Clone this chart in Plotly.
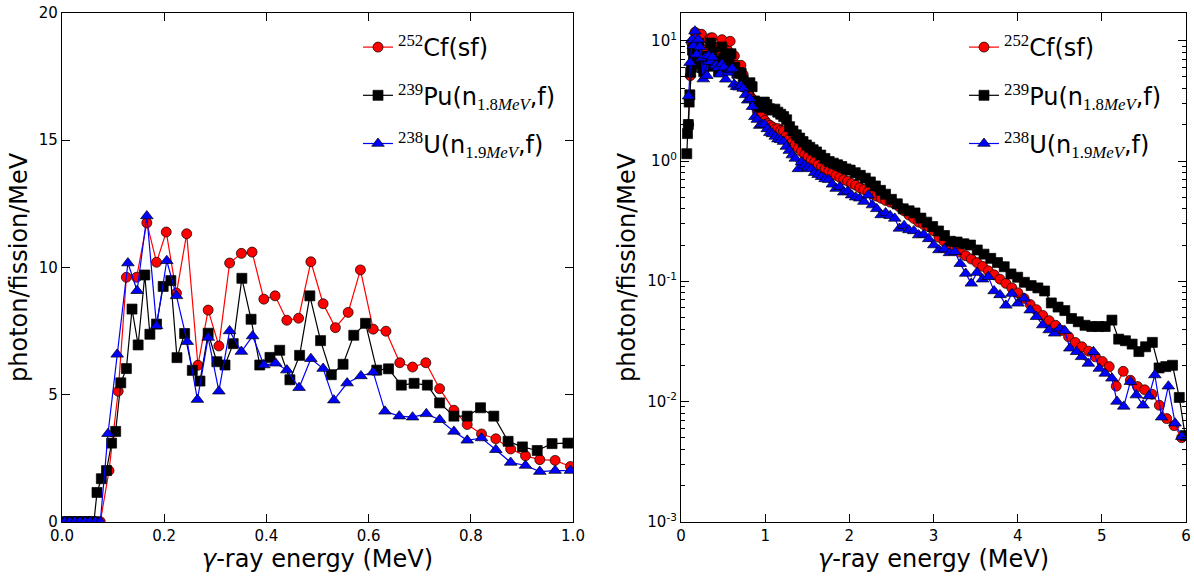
import plotly.graph_objects as go

# gamma-ray spectra (energy in MeV, photon/fission/MeV)
cf_e = [0.005, 0.015, 0.025, 0.035, 0.045, 0.055, 0.065, 0.075,
        0.092, 0.110, 0.126, 0.146, 0.166, 0.185, 0.204, 0.224, 0.244, 0.266,
        0.286, 0.307, 0.328, 0.351, 0.372, 0.395, 0.417, 0.440, 0.463, 0.487,
        0.511, 0.535, 0.560, 0.584, 0.609, 0.634, 0.661, 0.686, 0.712, 0.739,
        0.767, 0.793, 0.821, 0.849, 0.878, 0.907, 0.935, 0.965, 0.995,
        1.025, 1.056, 1.087, 1.120, 1.152, 1.185, 1.218, 1.252, 1.287, 1.322,
        1.358, 1.395, 1.432, 1.470, 1.509, 1.548, 1.588, 1.629, 1.670, 1.712,
        1.755, 1.799, 1.843, 1.888, 1.934, 1.980, 2.027, 2.075, 2.124, 2.173,
        2.223, 2.274, 2.326, 2.378, 2.431, 2.485, 2.540, 2.595, 2.651, 2.708,
        2.766, 2.824, 2.883, 2.943, 3.004, 3.065, 3.127, 3.190, 3.254, 3.318,
        3.383, 3.449, 3.516, 3.583, 3.651, 3.720, 3.790, 3.860, 3.931, 4.003,
        4.076, 4.149, 4.223, 4.298, 4.374, 4.450, 4.527, 4.605, 4.684, 4.763,
        4.843, 4.924, 5.006, 5.088, 5.171, 5.254, 5.339, 5.424, 5.509, 5.596,
        5.683, 5.771, 5.859, 5.948]
cf_y = [0, 0, 0, 0, 0, 0, 0, 0,
        2.01, 5.13, 9.61, 9.61, 11.75, 10.2, 11.39, 8.99, 11.32, 6.15,
        8.32, 6.91, 10.17, 10.55, 10.6, 8.75, 8.88, 7.92, 8.0, 10.22,
        8.57, 7.63, 8.23, 9.90, 7.57, 7.49, 6.25, 6.08, 6.25, 5.23,
        4.38, 3.82, 3.45, 3.26, 2.86, 2.59, 2.44, 2.41, 2.17,
        2.05, 1.98, 1.92, 1.85, 1.86, 1.80, 1.78, 1.62, 1.52, 1.44,
        1.37, 1.28, 1.20, 1.13, 1.08, 1.02, 0.98, 0.94, 0.90, 0.86,
        0.82, 0.79, 0.76, 0.73, 0.70, 0.68, 0.65, 0.63, 0.60, 0.58,
        0.555, 0.53, 0.51, 0.49, 0.47, 0.455, 0.44, 0.415, 0.385, 0.355,
        0.333, 0.31, 0.296, 0.284, 0.262, 0.232, 0.215, 0.198, 0.186, 0.174,
        0.163, 0.153, 0.143, 0.133, 0.122, 0.113, 0.104, 0.096, 0.088, 0.080,
        0.072, 0.064, 0.058, 0.052, 0.047, 0.043, 0.039, 0.0345, 0.031, 0.0285,
        0.0262, 0.0235, 0.0215, 0.0195, 0.0134, 0.0178, 0.0150, 0.0133, 0.0125, 0.0115,
        0.0093, 0.0072, 0.0063, 0.0050]

pu_e = [0.005, 0.015, 0.025, 0.035, 0.045, 0.055, 0.0625,
        0.0685, 0.077, 0.087, 0.097, 0.105, 0.115, 0.126, 0.137, 0.149, 0.162,
        0.172, 0.185, 0.198, 0.213, 0.225, 0.240, 0.255, 0.270, 0.286, 0.303,
        0.319, 0.335, 0.352, 0.370, 0.387, 0.407, 0.426, 0.446, 0.465, 0.485,
        0.506, 0.527, 0.550, 0.571, 0.594, 0.616, 0.639, 0.664, 0.689, 0.715,
        0.739, 0.767, 0.793, 0.819, 0.845, 0.873, 0.901, 0.930, 0.959, 0.990,
        1.02, 1.05, 1.08, 1.115, 1.15, 1.185, 1.22, 1.255, 1.29, 1.33,
        1.37, 1.41, 1.45, 1.49, 1.53, 1.57, 1.61, 1.66, 1.71, 1.76,
        1.81, 1.86, 1.91, 1.96, 2.01, 2.07, 2.13, 2.19, 2.25, 2.31,
        2.37, 2.43, 2.50, 2.57, 2.64, 2.71, 2.78, 2.85, 2.92, 2.99,
        3.06, 3.13, 3.20, 3.28, 3.36, 3.44, 3.52, 3.60, 3.68, 3.76,
        3.84, 3.92, 4.00, 4.08, 4.16, 4.24, 4.32, 4.40, 4.48, 4.56,
        4.64, 4.72, 4.80, 4.88, 4.96, 5.04, 5.12, 5.20, 5.28, 5.36,
        5.44, 5.52, 5.60, 5.68, 5.76, 5.84, 5.92, 5.99]
pu_y = [0, 0, 0, 0, 0, 0, 0,
        1.15, 1.69, 2.01, 3.09, 3.55, 5.46, 6.02, 8.36, 6.95, 9.70,
        7.37, 7.77, 9.25, 9.48, 6.45, 7.40, 5.95, 5.53, 7.41, 6.29,
        6.16, 7.0, 9.57, 7.96, 6.16, 6.46, 6.74, 5.58, 6.54, 8.88,
        7.12, 5.78, 6.19, 7.33, 7.80, 5.96, 6.01, 5.37, 5.44, 5.37,
        4.67, 4.15, 4.15, 4.48, 4.15, 3.16, 2.94, 2.80, 3.07, 3.09,
        2.95, 2.72, 2.65, 2.70, 2.55, 2.45, 2.34, 2.20, 1.93, 1.78,
        1.65, 1.55, 1.45, 1.36, 1.30, 1.24, 1.19, 1.12, 1.05, 0.99,
        0.96, 0.93, 0.90, 0.86, 0.84, 0.80, 0.76, 0.72, 0.67, 0.62,
        0.57, 0.53, 0.48, 0.44, 0.40, 0.385, 0.37, 0.335, 0.31, 0.285,
        0.262, 0.24, 0.215, 0.212, 0.205, 0.20, 0.182, 0.168, 0.155, 0.143,
        0.132, 0.115, 0.108, 0.098, 0.092, 0.088, 0.083, 0.066, 0.061, 0.057,
        0.049, 0.046, 0.043, 0.042, 0.042, 0.042, 0.0475, 0.033, 0.032, 0.030,
        0.026, 0.0285, 0.031, 0.019, 0.0195, 0.020, 0.0108, 0.0052]

u_e = [0.005, 0.015, 0.025, 0.035, 0.045, 0.055, 0.065, 0.075,
       0.090, 0.108, 0.129, 0.147, 0.166, 0.185, 0.205, 0.224, 0.245, 0.265,
       0.286, 0.307, 0.328, 0.351, 0.373, 0.395, 0.418, 0.440, 0.464, 0.487,
       0.511, 0.532, 0.558, 0.585, 0.609, 0.632, 0.660, 0.686, 0.713, 0.739,
       0.767, 0.793, 0.821, 0.849, 0.878, 0.907, 0.935, 0.965, 0.995,
       1.025, 1.056, 1.087, 1.120, 1.152, 1.185, 1.218, 1.252, 1.287, 1.322,
       1.358, 1.395, 1.432, 1.470, 1.509, 1.548, 1.588, 1.629, 1.670, 1.712,
       1.755, 1.799, 1.843, 1.888, 1.934, 1.980, 2.027, 2.075, 2.124, 2.173,
       2.223, 2.274, 2.326, 2.378, 2.431, 2.485, 2.540, 2.595, 2.651, 2.708,
       2.766, 2.824, 2.883, 2.943, 3.004, 3.065, 3.127, 3.190, 3.254, 3.318,
       3.383, 3.449, 3.516, 3.583, 3.651, 3.720, 3.790, 3.860, 3.931, 4.003,
       4.076, 4.149, 4.223, 4.298, 4.374, 4.440, 4.500, 4.560, 4.620, 4.700,
       4.760, 4.840, 4.900, 4.970, 5.040, 5.120, 5.180, 5.260, 5.340, 5.410,
       5.490, 5.560, 5.630, 5.710, 5.790, 5.870, 5.950]
u_y = [0, 0, 0, 0, 0, 0, 0, 0,
       3.46, 6.58, 10.17, 9.08, 12.02, 7.70, 10.26, 8.88, 7.08, 4.80,
       7.24, 5.13, 7.5, 6.69, 7.30, 6.16, 6.23, 5.96, 5.27, 6.41,
       6.02, 4.78, 5.45, 5.73, 5.88, 4.34, 4.15, 4.11, 4.24, 4.01,
       3.55, 3.20, 3.29, 2.83, 2.33, 2.21, 1.97, 2.01, 2.01,
       1.85, 1.72, 1.68, 1.60, 1.52, 1.50, 1.45, 1.32, 1.22, 1.12,
       1.05, 0.86, 0.98, 0.92, 0.88, 0.86, 0.80, 0.77, 0.74, 0.71,
       0.70, 0.64, 0.59, 0.61, 0.55, 0.56, 0.52, 0.50, 0.49, 0.46,
       0.52, 0.43, 0.40, 0.356, 0.37, 0.35, 0.333, 0.275, 0.29, 0.267,
       0.262, 0.242, 0.245, 0.225, 0.20, 0.182, 0.185, 0.172, 0.176, 0.14,
       0.116, 0.096, 0.118, 0.104, 0.109, 0.083, 0.077, 0.063, 0.079, 0.0655,
       0.072, 0.0575, 0.0507, 0.0432, 0.0393, 0.0369, 0.0405, 0.0387, 0.0277, 0.0259,
       0.0235, 0.0207, 0.0259, 0.0188, 0.0171, 0.0156, 0.0100, 0.0091, 0.0146, 0.0113,
       0.0093, 0.0111, 0.0166, 0.0074, 0.0134, 0.0066, 0.0051]

assert len(cf_e) == len(cf_y) and len(pu_e) == len(pu_y) and len(u_e) == len(u_y)

SERIF = "Liberation Serif"
labels = [
    f"<sup><span style='font-family:{SERIF}'>252</span></sup>Cf(sf)",
    f"<sup><span style='font-family:{SERIF}'>239</span></sup>Pu(n<sub><span style='font-family:{SERIF}'>1.8<i>MeV</i></span></sub>,f)",
    f"<sup><span style='font-family:{SERIF}'>238</span></sup>U(n<sub><span style='font-family:{SERIF}'>1.9<i>MeV</i></span></sub>,f)",
]
series = [(cf_e, cf_y), (pu_e, pu_y), (u_e, u_y)]
colors = ["#ff0000", "#000000", "#0000ff"]
symbols = ["circle", "square", "triangle-up"]
sizes = [10, 10, 11]

W, H = 1194, 581
FONT = "DejaVu Sans"


def xdom(px0, px1):
    return [px0 / W, px1 / W]


def ydom(py_bottom, py_top):
    return [(H - py_bottom) / H, (H - py_top) / H]


fig = go.Figure()

for xa, ya, leg, logy in [("x", "y", "legend", False), ("x2", "y2", "legend2", True)]:
    for i, ((e, v), lab, col, sym, sz) in enumerate(zip(series, labels, colors, symbols, sizes)):
        if logy:
            # zeros cannot sit on a log axis
            keep = [k for k, val in enumerate(v) if val > 0]
            e = [e[k] for k in keep]
            v = [v[k] for k in keep]
        fig.add_trace(go.Scatter(
            x=e, y=v, xaxis=xa, yaxis=ya, legend=leg, legendgroup=f"{leg}{i}",
            mode="lines+markers", name=lab,
            line=dict(color=col, width=1.2),
            marker=dict(symbol=sym, size=sz, color=col,
                        line=dict(color="black", width=0.7)),
        ))

axis_common = dict(
    showline=True, linecolor="black", linewidth=1.2, mirror="ticks",
    ticks="inside", ticklen=8, tickwidth=1, tickcolor="black",
    showgrid=False, zeroline=False, automargin=False,
    tickfont=dict(family=FONT, size=15, color="black"),
)
title_font = dict(family=FONT, size=24, color="black")
legend_common = dict(xanchor="left", yanchor="top", bgcolor="rgba(0,0,0,0)", borderwidth=0,
                     tracegroupgap=14, font=dict(family=FONT, size=24, color="black"))

fig.update_layout(
    width=W, height=H, autosize=False,
    margin=dict(l=0, r=0, t=0, b=0),
    paper_bgcolor="white", plot_bgcolor="white",
    font=dict(family=FONT, color="black"),
    xaxis=dict(domain=xdom(62, 573), range=[0, 1.0], tickvals=[0, 0.2, 0.4, 0.6, 0.8, 1.0],
               tickformat=".1f", anchor="y",
               title=dict(text="<i>γ</i>-ray energy (MeV)", font=title_font, standoff=6),
               **axis_common),
    yaxis=dict(domain=ydom(521.7, 13), range=[0, 20.001], tickvals=[0, 5, 10, 15, 20],
               anchor="x",
               title=dict(text="photon/fission/MeV", font=title_font, standoff=4),
               **axis_common),
    xaxis2=dict(domain=xdom(681, 1186), range=[0, 6], tickvals=[0, 1, 2, 3, 4, 5, 6],
                anchor="y2",
                title=dict(text="<i>γ</i>-ray energy (MeV)", font=title_font, standoff=6),
                **axis_common),
    yaxis2=dict(domain=ydom(521.7, 13), type="log", range=[-3, 1.231],
                tickvals=[0.001, 0.01, 0.1, 1, 10],
                ticktext=["10<sup>-3</sup>", "10<sup>-2</sup>", "10<sup>-1</sup>",
                          "10<sup>0</sup>", "10<sup>1</sup>"],
                minor=dict(ticks="inside", ticklen=4, tickcolor="black",
                           tickvals=[m * 10 ** d for d in range(-3, 2) for m in range(2, 10)]),
                anchor="x2",
                title=dict(text="photon/fission/MeV", font=title_font, standoff=4),
                **axis_common),
    legend=dict(x=358 / W, y=(H - 25) / H, **legend_common),
    legend2=dict(x=964 / W, y=(H - 25) / H, **legend_common),
)

# drop the default page margin so the figure fills the window exactly
fig.write_html("out.html", config={"displayModeBar": False},
               post_script="document.body.style.margin='0';document.body.style.overflow='hidden';")
